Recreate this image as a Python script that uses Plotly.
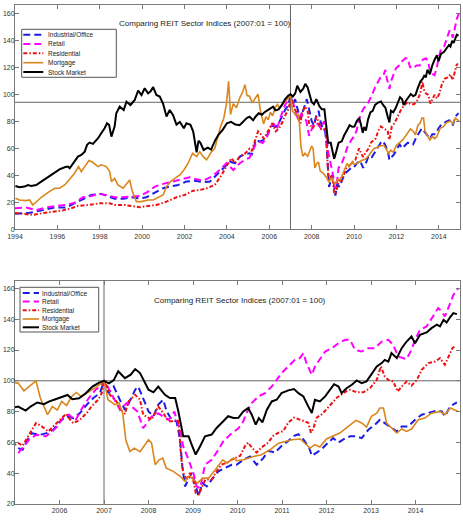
import plotly.graph_objects as go

# ---------------- data (decimal years, index 2007:01 = 100) ----------------
ind_x = [1994.0, 1994.69, 1995.32, 1995.87, 1996.42, 1996.81, 1997.21, 1997.6, 1998.07, 1998.39, 1998.7,
         1999.1, 1999.49, 1999.89, 2000.2, 2000.6, 2000.99, 2001.3, 2001.7, 2002.09, 2002.49, 2002.88,
         2003.2, 2003.51, 2003.9, 2004.14, 2004.38, 2004.61, 2004.85,
         2005.07, 2005.17, 2005.26, 2005.37, 2005.56, 2005.71, 2005.86, 2006.01, 2006.16, 2006.31, 2006.46,
         2006.61, 2006.76, 2006.91, 2007.0, 2007.1, 2007.22, 2007.35, 2007.47, 2007.6, 2007.7, 2007.77,
         2007.88, 2008.0, 2008.11, 2008.22, 2008.33, 2008.41, 2008.52, 2008.63, 2008.71, 2008.76, 2008.82,
         2008.9, 2008.97, 2009.05, 2009.12, 2009.21, 2009.31, 2009.42, 2009.57, 2009.72, 2009.87, 2009.98,
         2010.13, 2010.28, 2010.43, 2010.58, 2010.69, 2010.84, 2010.99, 2011.14, 2011.27, 2011.37, 2011.48,
         2011.61, 2011.67, 2011.78, 2011.89, 2012.0, 2012.15, 2012.27, 2012.38, 2012.53, 2012.66, 2012.79,
         2012.94, 2013.09, 2013.2, 2013.31, 2013.46, 2013.58, 2013.69, 2013.84, 2013.99, 2014.14, 2014.33,
         2014.48, 2014.59, 2014.66, 2014.78, 2014.93]
ind_y = [11.5, 12.2, 14.2, 16.2, 16.2, 19.2, 22.2, 25.4, 26.2, 24.7, 22.7,
         22.7, 23.7, 22.9, 23.7, 27.2, 30.4, 31.6, 32.8, 35.3, 36.0, 34.8,
         35.3, 40.2, 46.4, 50.1, 48.9, 53.8, 55.5,
         56.3, 55.2, 60.6, 66.0, 64.9, 66.0, 68.2, 73.6, 76.9, 75.8, 79.0,
         84.4, 88.8, 92.0, 100.0, 92.0, 96.3, 88.0, 81.2, 88.0, 94.2, 96.3,
         88.8, 80.1, 76.9, 84.5, 87.7, 80.1, 74.7, 73.6, 61.7, 44.4, 31.4,
         35.8, 40.2, 33.6, 25.0, 33.6, 31.4, 35.8, 41.2, 43.4, 45.5, 45.5,
         48.7, 50.9, 45.5, 49.8, 54.5, 53.4, 57.7, 60.9, 64.2, 65.3, 62.0,
         56.6, 51.3, 53.4, 55.6, 58.8, 62.8, 59.9, 62.0, 64.0, 63.9, 62.8,
         68.2, 71.5, 74.7, 72.5, 69.3, 67.1, 70.4, 70.4, 74.7, 78.0, 79.5,
         80.6, 80.1, 76.9, 83.4, 86.0]

ret_x = [1994.0, 1994.53, 1995.0, 1995.47, 1995.95, 1996.42, 1996.81, 1997.21, 1997.6, 1997.92, 1998.31,
         1998.7, 1999.02, 1999.49, 1999.89, 2000.28, 2000.6, 2000.99, 2001.46, 2001.86, 2002.25, 2002.57,
         2002.88, 2003.28, 2003.67, 2003.98, 2004.3, 2004.61, 2004.85,
         2005.07, 2005.2, 2005.35, 2005.5, 2005.69, 2005.84, 2005.95, 2006.1, 2006.21, 2006.36, 2006.51,
         2006.66, 2006.81, 2006.93, 2007.0, 2007.08, 2007.2, 2007.36, 2007.51, 2007.62, 2007.75, 2007.88,
         2008.07, 2008.22, 2008.45, 2008.58, 2008.71, 2008.78, 2008.9, 2009.01, 2009.08, 2009.16, 2009.27,
         2009.42, 2009.57, 2009.68, 2009.87, 2010.02, 2010.13, 2010.2, 2010.32, 2010.47, 2010.62, 2010.77,
         2010.88, 2010.99, 2011.14, 2011.29, 2011.4, 2011.48, 2011.55, 2011.67, 2011.74, 2011.85, 2011.97,
         2012.12, 2012.27, 2012.42, 2012.53, 2012.64, 2012.79, 2012.94, 2013.09, 2013.24, 2013.39, 2013.5,
         2013.61, 2013.8, 2013.91, 2013.99, 2014.1, 2014.25, 2014.36, 2014.51, 2014.59, 2014.66, 2014.78,
         2014.85, 2014.96]
ret_y = [15.6, 16.2, 14.2, 16.2, 17.2, 18.0, 19.7, 23.7, 24.7, 26.2, 25.4,
         23.7, 23.7, 24.2, 24.7, 27.9, 31.6, 33.6, 35.3, 37.0, 38.5, 37.0,
         36.0, 39.0, 43.9, 48.9, 43.9, 48.9, 51.5,
         53.0, 57.4, 62.8, 65.0, 63.9, 67.2, 70.4, 76.9, 78.0, 74.3, 82.3,
         88.8, 94.2, 96.3, 100.0, 96.3, 89.8, 81.2, 85.5, 83.3, 80.0, 69.2,
         76.8, 78.9, 74.6, 80.0, 68.1, 57.3, 48.7, 40.0, 31.4, 30.3, 45.5,
         48.7, 55.2, 60.6, 66.0, 69.2, 73.6, 79.1, 85.5, 89.9, 92.0, 96.3,
         100.6, 105.0, 109.3, 113.6, 114.7, 117.9, 111.5, 103.9, 109.3, 113.6, 119.0,
         121.2, 124.4, 126.6, 126.6, 120.1, 119.0, 121.2, 121.2, 125.5, 126.6, 123.3,
         115.8, 114.1, 120.1, 126.6, 133.1, 135.3, 140.7, 147.2, 145.0, 141.8, 150.4,
         155.8, 160.1]

res_x = [1994.0, 1994.53, 1994.84, 1995.32, 1995.79, 1996.26, 1996.66, 1996.97, 1997.44, 1997.99, 1998.47,
         1998.7, 1999.18, 1999.49, 1999.89, 2000.28, 2000.67, 2001.15, 2001.62, 2002.01, 2002.41, 2002.72,
         2003.04, 2003.43, 2003.75, 2004.06, 2004.22, 2004.38, 2004.61, 2004.85,
         2005.07, 2005.17, 2005.3, 2005.47, 2005.6, 2005.75, 2005.86, 2006.01, 2006.15, 2006.24, 2006.31,
         2006.46, 2006.61, 2006.72, 2006.87, 2006.95, 2007.0, 2007.07, 2007.13, 2007.28, 2007.38, 2007.47,
         2007.55, 2007.7, 2007.81, 2007.88, 2008.0, 2008.07, 2008.15, 2008.22, 2008.33, 2008.45, 2008.56,
         2008.66, 2008.69, 2008.73, 2008.78, 2008.86, 2008.93, 2009.01, 2009.06, 2009.13, 2009.21, 2009.28,
         2009.42, 2009.53, 2009.64, 2009.76, 2009.87, 2009.96, 2010.06, 2010.17, 2010.24, 2010.32, 2010.43,
         2010.54, 2010.69, 2010.8, 2010.92, 2011.03, 2011.14, 2011.27, 2011.37, 2011.48, 2011.59, 2011.65,
         2011.7, 2011.78, 2011.89, 2012.0, 2012.12, 2012.23, 2012.34, 2012.45, 2012.53, 2012.68, 2012.83,
         2012.98, 2013.13, 2013.22, 2013.31, 2013.39, 2013.5, 2013.6, 2013.69, 2013.8, 2013.91, 2014.03,
         2014.14, 2014.29, 2014.44, 2014.55, 2014.66, 2014.74, 2014.83, 2014.9]
res_y = [12.0, 11.4, 10.7, 12.0, 13.0, 14.0, 15.6, 17.3, 18.0, 19.2, 19.2,
         18.0, 18.0, 17.3, 16.3, 17.3, 18.0, 20.5, 23.7, 25.4, 28.6, 29.1,
         30.3, 32.8, 40.2, 48.9, 52.6, 48.9, 53.8, 56.0,
         59.6, 57.8, 63.9, 72.5, 70.4, 67.1, 70.4, 74.7, 78.6, 74.7, 72.5,
         74.7, 79.0, 83.4, 87.7, 92.0, 100.0, 96.0, 91.0, 86.6, 81.2, 78.5,
         86.6, 90.9, 87.7, 78.0, 75.9, 74.8, 79.1, 83.4, 79.1, 73.7, 73.7,
         74.8, 68.3, 51.0, 40.2, 35.9, 40.2, 34.8, 27.3, 26.2, 31.6, 35.9,
         35.9, 41.3, 45.6, 46.7, 48.8, 50.2, 51.3, 57.7, 59.9, 56.7, 53.4,
         56.7, 59.9, 64.2, 66.3, 67.4, 72.8, 76.1, 75.0, 73.9, 72.8, 66.3,
         68.5, 76.1, 78.2, 81.5, 85.8, 89.0, 91.2, 93.3, 94.2, 92.5, 92.5,
         95.3, 100.6, 109.3, 102.8, 100.6, 99.5, 93.1, 96.3, 99.5, 96.8, 100.6,
         107.1, 111.5, 112.5, 114.7, 110.4, 115.8, 121.2, 122.7]

mort_x = [1994.02, 1994.21, 1994.53, 1994.69, 1994.84, 1995.0, 1995.24, 1995.55, 1995.87, 1996.1, 1996.34,
          1996.58, 1996.81, 1997.0, 1997.13, 1997.29, 1997.49, 1997.68, 1997.92, 1998.07, 1998.31, 1998.47,
          1998.55, 1998.7, 1998.86, 1999.1, 1999.26, 1999.41, 1999.54, 1999.73, 1999.97, 2000.28, 2000.52,
          2000.75, 2000.99, 2001.15, 2001.34, 2001.54, 2001.78, 2001.97, 2002.17, 2002.38, 2002.57, 2002.72,
          2002.88, 2003.04, 2003.28, 2003.43, 2003.55, 2003.7, 2003.85, 2003.98, 2004.08, 2004.17, 2004.3,
          2004.45, 2004.6, 2004.75, 2004.85, 2004.95,
          2005.07, 2005.2, 2005.35, 2005.47, 2005.57, 2005.73, 2005.84, 2005.95, 2006.05, 2006.16, 2006.27,
          2006.38, 2006.49, 2006.56, 2006.73, 2006.84, 2007.0, 2007.09, 2007.24, 2007.34, 2007.42, 2007.49,
          2007.58, 2007.68, 2007.81, 2008.0, 2008.07, 2008.15, 2008.24, 2008.32, 2008.4, 2008.56, 2008.71,
          2008.82, 2008.92, 2009.0, 2009.1, 2009.22, 2009.35, 2009.5, 2009.67, 2009.76, 2009.91, 2009.98,
          2010.13, 2010.36, 2010.54, 2010.73, 2010.92, 2011.07, 2011.22, 2011.41, 2011.52, 2011.63, 2011.74,
          2011.85, 2012.0, 2012.15, 2012.3, 2012.49, 2012.66, 2012.79, 2012.9, 2013.01, 2013.13, 2013.2,
          2013.28, 2013.35, 2013.5, 2013.58, 2013.69, 2013.8, 2013.91, 2014.06, 2014.21, 2014.36, 2014.55,
          2014.66, 2014.78, 2014.87, 2014.96]
mort_y = [23.0, 21.7, 21.2, 21.7, 18.0, 20.5, 23.7, 27.2, 30.4, 30.4, 32.8,
          37.0, 41.5, 46.4, 42.7, 46.4, 50.9, 49.4, 46.4, 47.7, 46.4, 42.7,
          35.3, 37.7, 32.8, 30.4, 34.0, 36.5, 27.9, 20.5, 20.5, 21.7, 21.7,
          23.7, 25.4, 31.6, 35.3, 37.7, 40.2, 43.9, 48.9, 56.3, 53.8, 57.5,
          53.8, 51.4, 57.5, 60.0, 68.0, 76.0, 82.0, 93.0, 109.5, 85.0, 93.0,
          90.0, 97.0, 102.0, 107.0, 99.0,
          98.5, 93.5, 97.4, 100.0, 88.8, 78.0, 83.3, 81.0, 86.6, 84.0, 89.8,
          92.4, 89.8, 91.0, 94.0, 96.2, 100.0, 87.7, 84.5, 85.5, 79.0, 61.7,
          54.1, 56.3, 54.0, 61.7, 59.5, 45.5, 48.7, 49.8, 43.3, 41.2, 38.0,
          34.7, 38.3, 36.2, 33.6, 36.8, 36.8, 42.2, 48.7, 46.5, 49.8, 48.1,
          48.7, 50.9, 52.0, 55.2, 59.5, 60.6, 61.7, 62.2, 59.1, 56.3, 58.5,
          57.0, 62.2, 63.9, 66.1, 70.4, 74.3, 72.6, 70.0, 76.9, 79.0, 82.3,
          82.3, 72.6, 68.7, 66.1, 68.7, 67.1, 68.7, 74.7, 75.8, 79.0, 80.1,
          78.0, 82.3, 81.2, 80.1]

stk_x = [1994.02, 1994.21, 1994.45, 1994.61, 1994.76, 1995.0, 1995.24, 1995.47, 1995.79, 1996.1, 1996.34,
         1996.5, 1996.58, 1996.73, 1996.97, 1997.13, 1997.29, 1997.4, 1997.52, 1997.68, 1997.92, 1998.07,
         1998.23, 1998.34, 1998.44, 1998.55, 1998.7, 1998.78, 1998.94, 1999.13, 1999.26, 1999.45, 1999.65,
         1999.81, 1999.97, 2000.12, 2000.28, 2000.39, 2000.52, 2000.67, 2000.83, 2000.99, 2001.15, 2001.3,
         2001.46, 2001.62, 2001.78, 2001.97, 2002.09, 2002.28, 2002.41, 2002.57, 2002.66, 2002.75, 2002.9,
         2003.1, 2003.25, 2003.45, 2003.6, 2003.8, 2004.0, 2004.2, 2004.4, 2004.6, 2004.8, 2004.95,
         2005.07, 2005.24, 2005.35, 2005.5, 2005.65, 2005.76, 2005.91, 2006.03, 2006.18, 2006.29, 2006.44,
         2006.59, 2006.74, 2006.89, 2007.0, 2007.11, 2007.22, 2007.32, 2007.47, 2007.6, 2007.7, 2007.81,
         2007.9, 2008.0, 2008.11, 2008.22, 2008.37, 2008.48, 2008.6, 2008.67, 2008.78, 2008.9, 2008.97,
         2009.06, 2009.16, 2009.27, 2009.42, 2009.53, 2009.68, 2009.79, 2009.91, 2010.02, 2010.13, 2010.24,
         2010.32, 2010.41, 2010.48, 2010.56, 2010.66, 2010.77, 2010.88, 2010.99, 2011.14, 2011.27, 2011.37,
         2011.48, 2011.59, 2011.67, 2011.74, 2011.85, 2011.97, 2012.08, 2012.17, 2012.27, 2012.34, 2012.45,
         2012.57, 2012.68, 2012.79, 2012.9, 2013.02, 2013.13, 2013.24, 2013.31, 2013.39, 2013.46, 2013.58,
         2013.69, 2013.8, 2013.91, 2013.99, 2014.1, 2014.25, 2014.36, 2014.48, 2014.55, 2014.63, 2014.7,
         2014.78, 2014.85, 2014.93]
stk_y = [32.1, 31.1, 31.6, 32.8, 32.1, 32.8, 35.3, 37.8, 41.5, 44.4, 45.9,
         46.4, 45.2, 48.9, 53.8, 55.1, 57.5, 62.5, 64.2, 63.2, 67.4, 71.1,
         74.8, 78.5, 77.3, 68.6, 76.0, 85.9, 90.8, 88.3, 94.5, 92.0, 95.7,
         102.7, 99.4, 104.4, 100.7, 102.0, 105.2, 99.4, 98.2, 92.8, 83.4, 88.3,
         84.5, 77.5, 79.5, 74.8, 78.5, 77.3, 72.3, 57.0, 65.5, 64.0, 58.7,
         60.5, 59.0, 66.0, 69.9, 73.6, 78.5, 79.5, 77.5, 77.0, 80.0, 82.5,
         83.3, 80.7, 83.3, 85.9, 84.8, 86.5, 88.0, 89.3, 90.8, 88.0, 88.7,
         91.9, 96.2, 98.8, 100.0, 98.3, 100.4, 106.2, 101.7, 104.0, 107.6, 105.0,
         100.0, 94.2, 92.5, 96.3, 90.9, 88.8, 88.8, 80.2, 64.0, 64.0, 58.6,
         52.1, 57.5, 64.0, 65.1, 69.4, 73.7, 77.0, 75.9, 76.0, 80.1, 82.3,
         78.0, 71.5, 75.8, 73.0, 81.2, 86.6, 87.7, 92.0, 93.8, 94.6, 92.0,
         89.9, 83.4, 79.1, 87.7, 86.6, 89.9, 94.2, 97.8, 96.3, 92.0, 95.2,
         97.4, 100.2, 98.5, 99.6, 105.0, 109.3, 111.5, 113.6, 112.5, 118.0, 114.7,
         121.2, 125.5, 128.8, 124.4, 129.8, 131.4, 134.2, 136.4, 135.3, 139.6, 137.9,
         141.4, 144.0, 143.3]

series_names = ["Industrial/Office", "Retail", "Residential", "Mortgage", "Stock Market"]
title_text = "Comparing REIT Sector Indices (2007:01 = 100)"
top_xticks = [1994, 1996, 1998, 2000, 2002, 2004, 2006, 2008, 2010, 2012, 2014]
bot_xticks = [2006, 2007, 2008, 2009, 2010, 2011, 2012, 2013, 2014]
top_yticks = [0, 20, 40, 60, 80, 100, 120, 140, 160]
bot_yticks = [20, 40, 60, 80, 100, 120, 140, 160]
base_year = 2007
top_ref_level = 94
bot_ref_level = 100

# ---------------- styles ----------------
styles = [
    dict(color="#1c1ce6", width=2, dash="7px,4px"),
    dict(color="#ff00ff", width=2, dash="7px,4px"),
    dict(color="#ee1111", width=2, dash="4px,2px,1.5px,2px"),
    dict(color="#d9861c", width=1.6, dash="solid"),
    dict(color="#000000", width=2, dash="solid"),
]
data = [(ind_x, ind_y), (ret_x, ret_y), (res_x, res_y), (mort_x, mort_y), (stk_x, stk_y)]

W, H = 463, 525
ML, MR, MT, MB = 15, 3, 5, 21
PW, PH = W - ML - MR, H - MT - MB

def px2paper(px, py):
    return (px - ML) / PW, (H - MB - py) / PH

fig = go.Figure()
for (xs, ys), nm, st in zip(data, series_names, styles):
    fig.add_trace(go.Scatter(x=xs, y=ys, mode="lines", name=nm, line=st,
                             xaxis="x", yaxis="y", showlegend=False))
for (xs, ys), nm, st in zip(data, series_names, styles):
    fig.add_trace(go.Scatter(x=xs, y=ys, mode="lines", name=nm, line=st,
                             xaxis="x2", yaxis="y2", showlegend=False))

axis_common = dict(showgrid=False, zeroline=False, showline=True, linecolor="#7a7a7a",
                   linewidth=1, mirror="ticks", ticks="inside", ticklen=4,
                   tickcolor="#7a7a7a", tickfont=dict(family="Liberation Sans, Arial", size=7, color="#333"),
                   automargin=False)
yaxis_extra = dict(ticklabelstandoff=-2)

top_dom = [(H - MB - 229.3) / PH, 1.0]
bot_dom = [0.0, (H - MB - 280.7) / PH]

fig.update_layout(
    width=W, height=H,
    margin=dict(l=ML, r=MR, t=MT, b=MB),
    paper_bgcolor="white", plot_bgcolor="white",
    xaxis=dict(axis_common, domain=[0, 1], range=[1994, 2015], tickvals=top_xticks, anchor="y"),
    yaxis=dict(axis_common, **yaxis_extra, domain=top_dom, range=[0, 166], tickvals=top_yticks, anchor="x"),
    xaxis2=dict(axis_common, domain=[0, 1], range=[2005, 2015], tickvals=bot_xticks, anchor="y2"),
    yaxis2=dict(axis_common, **yaxis_extra, domain=bot_dom, range=[20, 165], tickvals=bot_yticks, anchor="x2"),
    showlegend=False,
)

ref_line = dict(color="#666666", width=1)
shapes = [
    dict(type="line", xref="x", yref="paper", x0=base_year, x1=base_year, y0=top_dom[0], y1=top_dom[1], line=ref_line, layer="below"),
    dict(type="line", xref="paper", yref="y", x0=0, x1=1, y0=top_ref_level, y1=top_ref_level, line=ref_line, layer="below"),
    dict(type="line", xref="x2", yref="paper", x0=base_year, x1=base_year, y0=bot_dom[0], y1=bot_dom[1], line=ref_line, layer="below"),
    dict(type="line", xref="paper", yref="y2", x0=0, x1=1, y0=bot_ref_level, y1=bot_ref_level, line=ref_line, layer="below"),
]
annotations = []

tx, ty = px2paper(205.3, 23.3)
annotations.append(dict(text=title_text, x=tx, y=ty, xref="paper", yref="paper", showarrow=False,
                        xanchor="center", yanchor="middle",
                        font=dict(family="Liberation Sans, Arial", size=8, color="#222")))
tx, ty = px2paper(239.7, 300.0)
annotations.append(dict(text=title_text, x=tx, y=ty, xref="paper", yref="paper", showarrow=False,
                        xanchor="center", yanchor="middle",
                        font=dict(family="Liberation Sans, Arial", size=8, color="#222")))

# manual legends (box, line samples, labels)
legends = [
    dict(box=(21.7, 29.3, 116.3, 77.3), rows=[34.7, 44.0, 53.3, 62.7, 72.0], sx=(23.3, 43.3), tx=45.5),
    dict(box=(20.0, 287.3, 98.7, 332.0), rows=[293.0, 301.6, 310.3, 319.0, 327.3], sx=(22.7, 39.0), tx=39.7),
]
for lg in legends:
    x0, y0 = px2paper(lg["box"][0], lg["box"][3])
    x1, y1 = px2paper(lg["box"][2], lg["box"][1])
    shapes.append(dict(type="rect", xref="paper", yref="paper", x0=x0, y0=y0, x1=x1, y1=y1,
                       line=dict(color="#555", width=1), fillcolor="white", layer="above"))
    for ry, nm, st in zip(lg["rows"], series_names, styles):
        ax0, ay = px2paper(lg["sx"][0], ry)
        ax1, _ = px2paper(lg["sx"][1], ry)
        shapes.append(dict(type="line", xref="paper", yref="paper", x0=ax0, x1=ax1, y0=ay, y1=ay,
                           line=dict(color=st["color"], width=st["width"], dash=st["dash"]), layer="above"))
        lx, _ = px2paper(lg["tx"], ry)
        annotations.append(dict(text=nm, x=lx, y=ay, xref="paper", yref="paper", showarrow=False,
                                xanchor="left", yanchor="middle",
                                font=dict(family="Liberation Sans, Arial", size=6.5, color="#222")))

fig.update_layout(shapes=shapes, annotations=annotations)
fig.write_html("out.html")
